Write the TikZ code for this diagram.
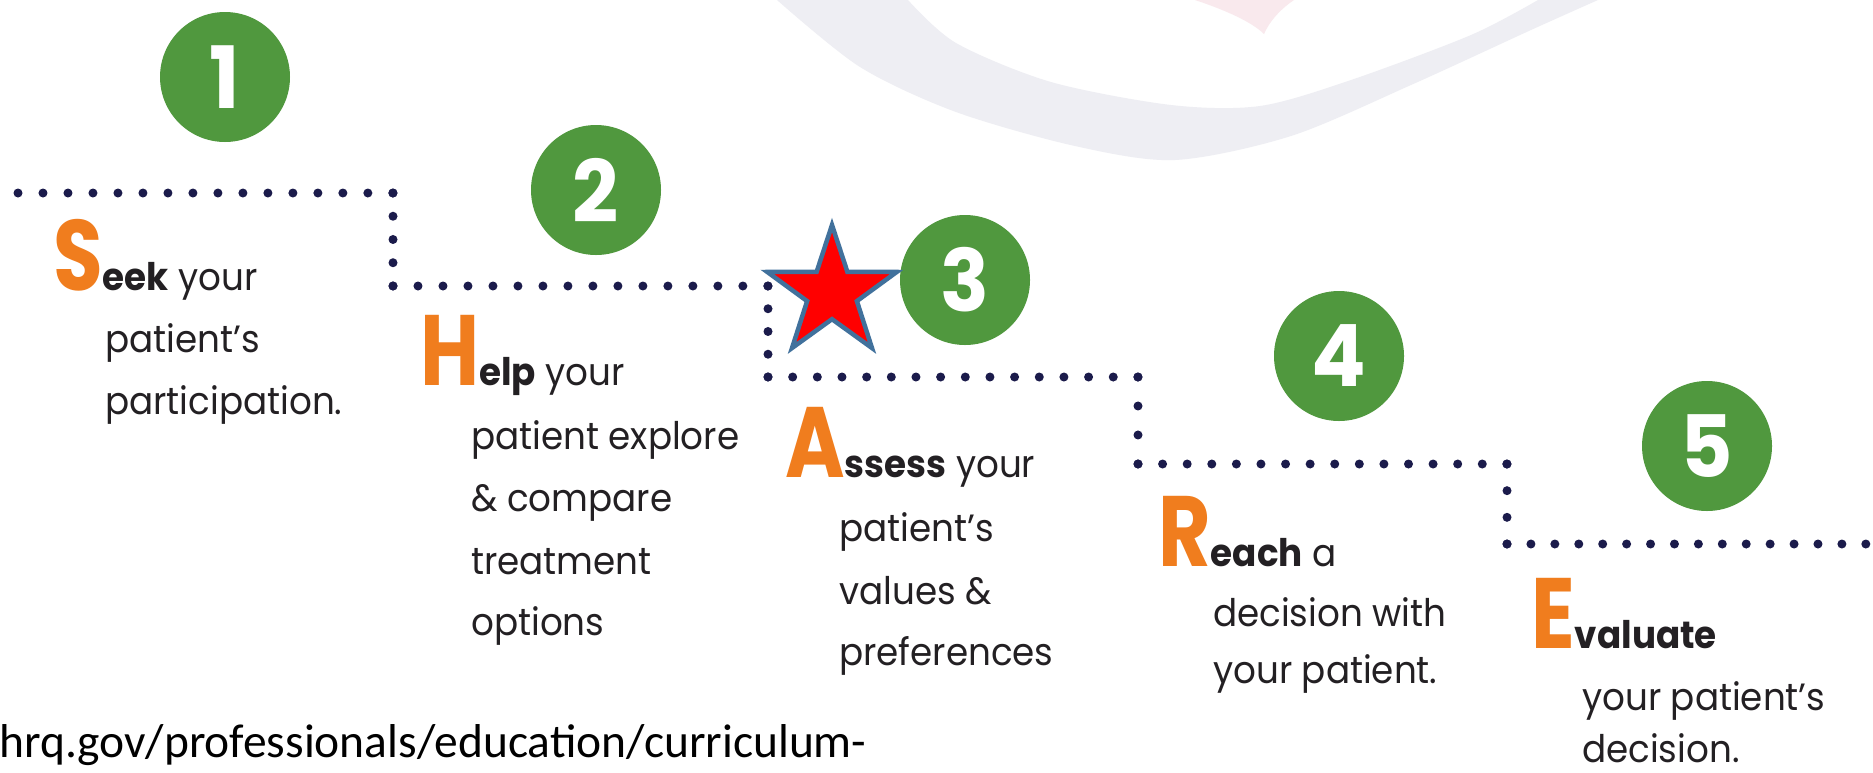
\documentclass[tikz,border=0pt]{standalone}
\usepackage{fontspec}
\usepackage{graphicx}
\setmainfont{Poppins}[FakeStretch=0.94]
\newfontfamily\urlfont{Carlito}
\usetikzlibrary{shapes.geometric}

\definecolor{stepgreen}{RGB}{80,152,62}
\definecolor{initorange}{RGB}{240,125,30}
\definecolor{dotnavy}{RGB}{27,27,75}
\definecolor{bodyink}{RGB}{35,32,35}
\definecolor{swooshgray}{RGB}{238,238,243}
\definecolor{swooshpink}{RGB}{249,233,237}
\definecolor{starred}{RGB}{255,0,0}
\definecolor{starblue}{RGB}{65,113,156}

% big orange first letter of each step
\newcommand{\initial}[1]{{\color{initorange}\fontsize{100}{100}\selectfont\bfseries\scalebox{0.86}[1]{#1}}}

\begin{document}
\begin{tikzpicture}[x=1pt, y=-1pt,
  stepnum/.style={circle, fill=stepgreen, text=white, minimum size=130pt, inner sep=0pt,
    font=\fontsize{86}{86}\selectfont\bfseries},
  textline/.style={anchor=base west, inner sep=0pt, text=bodyink, font=\fontsize{38}{38}\selectfont},
  dotrow/.style={dotnavy, line width=9pt, line cap=round, dash pattern=on 0pt off #1pt},
]
\fill[white] (0,0) rectangle (1873,772);
\useasboundingbox (0,0) rectangle (1873,772);

% faint swoosh in the background
\fill[swooshgray] plot[smooth] coordinates {(777,0) (860,67) (956,112) (1075,146) (1175,160)
    (1291,136) (1411,85) (1531,30) (1598,0)}
  -- plot[smooth] coordinates {(1538,0) (1471,35) (1351,80) (1260,106) (1171,105)
    (1051,82) (956,43) (908,0)} -- cycle;
\fill[swooshpink] (1195,0) .. controls (1225,10) and (1252,22) .. (1264,34)
  .. controls (1270,20) and (1282,8) .. (1294,0) -- cycle;

% staircase of dots
\coordinate (d0) at (18,193);
\coordinate (d1) at (393,193);
\coordinate (d2) at (393,286);
\coordinate (d3) at (768,286);
\coordinate (d4) at (768,377);
\coordinate (d5) at (1138,377);
\coordinate (d6) at (1138,464);
\coordinate (d7) at (1507,464);
\coordinate (d8) at (1507,544);
\coordinate (d9) at (1866,544);

\draw[dotrow=24.99] (d0) -- (d1);
\draw[dotrow=23.24] (d1) -- (d2);
\draw[dotrow=24.99] (d2) -- (d3);
\draw[dotrow=22.74] (d3) -- (d4);
\draw[dotrow=24.66] (d4) -- (d5);
\draw[dotrow=28.99] (d5) -- (d6);
\draw[dotrow=24.59] (d6) -- (d7);
\draw[dotrow=26.66] (d7) -- (d8);
\draw[dotrow=23.92] (d8) -- (d9);

% numbered circles
\node[stepnum] (step1) at (225,77) {1};
\node[stepnum] (step2) at (596,190) {2};
\node[stepnum] (step3) at (965,280) {3};
\node[stepnum] (step4) at (1339,356) {4};
\node[stepnum] (step5) at (1707,446) {5};

\node[star, star points=5, star point ratio=2.6, minimum size=136pt, inner sep=0pt,
  fill=starred, draw=starblue, line width=4.5pt] (star) at (832,293) {};

% S
\node[textline] (seek) at (53,290) {\initial{S}{\bfseries eek} your};
\node[textline] (seek2) at (105,352) {patient’s};
\node[textline] (seek3) at (105,414) {participation.};

% H
\node[textline] (help) at (420,385) {\initial{H}{\bfseries elp} your};
\node[textline] (help2) at (471,449) {patient explore};
\node[textline] (help3) at (471,511) {\& compare};
\node[textline] (help4) at (471,574) {treatment};
\node[textline] (help5) at (471,635) {options};

% A
\node[textline] (assess) at (785,477) {\initial{A}{\bfseries ssess} your};
\node[textline] (assess2) at (839,541) {patient’s};
\node[textline] (assess3) at (839,604) {values \&};
\node[textline] (assess4) at (839,665) {preferences};

% R
\node[textline] (reach) at (1158,566) {\initial{R}{\bfseries each} a};
\node[textline] (reach2) at (1213,626) {decision with};
\node[textline] (reach3) at (1213,683) {your patient.};

% E
\node[textline] (eval) at (1531,648) {\initial{E}{\bfseries valuate}};
\node[textline] (eval2) at (1582,710) {your patient’s};
\node[textline] (eval3) at (1582,762) {decision.};

\node[anchor=base west, inner sep=0pt, text=black, font=\urlfont\fontsize{47.5}{47.5}\selectfont]
  (source) at (-1,757) {hrq.gov/professionals/education/curriculum-};
\end{tikzpicture}
\end{document}
